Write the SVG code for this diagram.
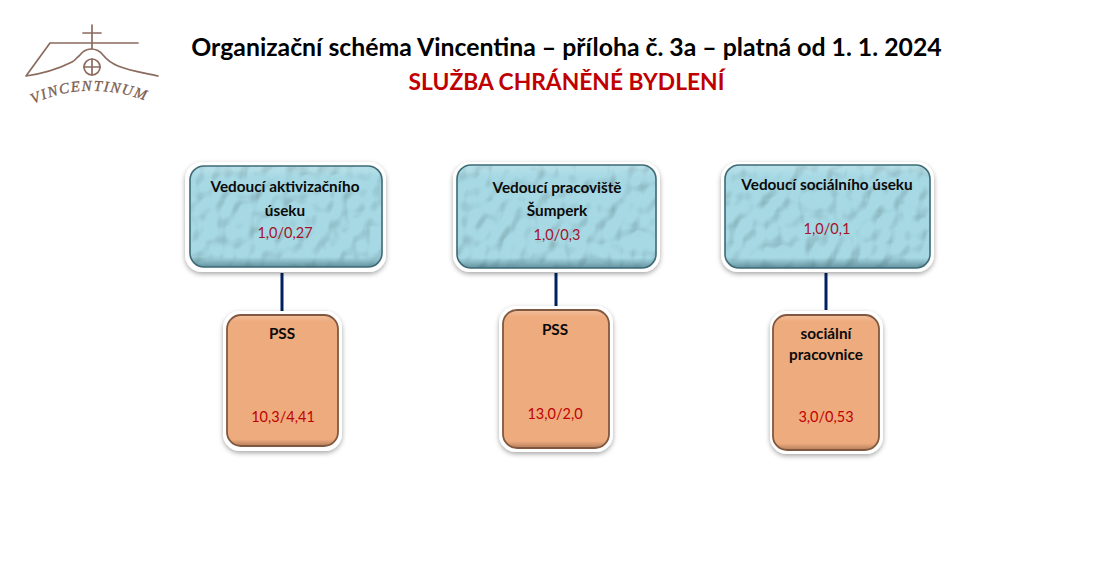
<svg xmlns="http://www.w3.org/2000/svg" width="1113" height="569" viewBox="0 0 1113 569">
<style>
text{font-family:Lato,"Open Sans","Liberation Sans",sans-serif;text-anchor:middle}
.t{font-size:24.8px;font-weight:700;fill:#000}
.s{font-size:22.8px;font-weight:700;fill:#c00000}
.b{font-size:15.3px;font-weight:700;fill:#0a0a0a}
.v{font-size:14.5px;fill:#a3122a}
.o{font-size:14.5px;fill:#c00000}
.fr{fill:#fff;filter:url(#sh)}
.blue{fill:#a6d9e4;filter:url(#drops)}
.edge{fill:url(#gl);stroke:#3d6a75;stroke-width:1.6}
.or{fill:#eeab7e}
.oe{fill:url(#og);stroke:#80583f;stroke-width:1.8}
.lg{fill:none;stroke:#8b6b5e;stroke-width:1.7;stroke-linecap:round;stroke-linejoin:round}
.con{stroke:#002060;stroke-width:3;fill:none}
</style>
<defs>
<filter id="sh" x="-10%" y="-10%" width="120%" height="125%"><feDropShadow dx="0" dy="2" stdDeviation="2.5" flood-color="#000" flood-opacity=".35"/></filter>
<filter id="drops" x="0" y="0" width="100%" height="100%" color-interpolation-filters="sRGB">
<feTurbulence type="fractalNoise" baseFrequency=".09 .07" numOctaves="1" seed="7" result="n"/>
<feColorMatrix in="n" type="matrix" values="0 0 0 0 0 0 0 0 0 0 0 0 0 0 0 2 0 0 0 -.6" result="h"/>
<feDiffuseLighting in="h" surfaceScale="1" diffuseConstant="1.13" lighting-color="#ffffff" result="df"><feDistantLight azimuth="235" elevation="62"/></feDiffuseLighting>
<feComposite in="SourceGraphic" in2="df" operator="arithmetic" k1="1" k2="0" k3="0" k4="0" result="a"/>
<feComposite in="a" in2="SourceAlpha" operator="in"/>
</filter>
<linearGradient id="gl" x1="0" y1="0" x2="0" y2="1">
<stop offset="0" stop-color="#fff" stop-opacity=".2"/><stop offset=".12" stop-color="#fff" stop-opacity="0"/><stop offset=".9" stop-color="#1d4a55" stop-opacity="0"/><stop offset="1" stop-color="#1d4a55" stop-opacity=".5"/>
</linearGradient>
<linearGradient id="og" x1="0" y1="0" x2="0" y2="1">
<stop offset="0" stop-color="#fff" stop-opacity=".25"/><stop offset=".05" stop-color="#fff" stop-opacity="0"/><stop offset=".95" stop-color="#5c3a24" stop-opacity="0"/><stop offset="1" stop-color="#5c3a24" stop-opacity=".4"/>
</linearGradient>
<path id="arc" d="M33,104 Q92,76 162,107"/>
</defs>

<g id="logo">
<path class="lg" d="M92,25V48M83,33H101M50,43H138M50,43L26,76C40,74 56,70 72,62C76,60 76,58 79,56C82,52 86,49 91,49C96,49 100,51 103,55C107,60 111,63 118,66C130,71 145,73 158,76"/>
<circle class="lg" cx="92" cy="67" r="8"/>
<path class="lg" d="M92,59V75M84,67H100"/>
<text font-size="15" fill="#7d5d50" stroke="#7d5d50" stroke-width=".3" style="font-family:'Liberation Serif',serif;font-style:italic;text-anchor:start" letter-spacing="1.5"><textPath href="#arc">VINCENTINUM</textPath></text>
</g>

<g id="title">
<text class="t" x="566.5" y="56">Organizační schéma Vincentina – příloha č. 3a – platná od 1. 1. 2024</text>
<text class="s" x="566.5" y="90">SLUŽBA CHRÁNĚNÉ BYDLENÍ</text>
</g>

<g id="connectors">
<path class="con" d="M282,273V311"/>
<path class="con" d="M556,273V306"/>
<path class="con" d="M826,273V310"/>
</g>

<g id="n1">
<rect class="fr" x="185" y="162" width="201" height="110" rx="17"/>
<rect class="blue" x="190" y="166" width="192" height="101" rx="14"/>
<rect class="edge" x="190" y="166" width="192" height="101" rx="14"/>
<text class="b" x="285" y="192">Vedoucí aktivizačního</text>
<text class="b" x="285" y="216">úseku</text>
<text class="v" x="285" y="238">1,0/0,27</text>
</g>
<g id="n2">
<rect class="fr" x="453" y="162" width="207" height="110" rx="17"/>
<rect class="blue" x="457" y="165" width="199" height="103" rx="14"/>
<rect class="edge" x="457" y="165" width="199" height="103" rx="14"/>
<text class="b" x="557" y="193">Vedoucí pracoviště</text>
<text class="b" x="557" y="216">Šumperk</text>
<text class="v" x="557" y="240">1,0/0,3</text>
</g>
<g id="n3">
<rect class="fr" x="721" y="162" width="213" height="110" rx="17"/>
<rect class="blue" x="725" y="165" width="205" height="103" rx="14"/>
<rect class="edge" x="725" y="165" width="205" height="103" rx="14"/>
<text class="b" x="827" y="190">Vedoucí sociálního úseku</text>
<text class="v" x="827" y="234">1,0/0,1</text>
</g>
<g id="n4">
<rect class="fr" x="223" y="311" width="119" height="140" rx="17"/>
<rect class="or" x="227" y="315" width="111" height="131" rx="14"/>
<rect class="oe" x="227" y="315" width="111" height="131" rx="14"/>
<text class="b" x="282" y="339">PSS</text>
<text class="o" x="283" y="422">10,3/4,41</text>
</g>
<g id="n5">
<rect class="fr" x="499" y="306" width="114" height="146" rx="17"/>
<rect class="or" x="503" y="310" width="106" height="138" rx="14"/>
<rect class="oe" x="503" y="310" width="106" height="138" rx="14"/>
<text class="b" x="555" y="335">PSS</text>
<text class="o" x="555" y="419">13,0/2,0</text>
</g>
<g id="n6">
<rect class="fr" x="770" y="311" width="113" height="143" rx="17"/>
<rect class="or" x="773" y="315" width="106" height="135" rx="14"/>
<rect class="oe" x="773" y="315" width="106" height="135" rx="14"/>
<text class="b" x="826" y="339">sociální</text>
<text class="b" x="826" y="360">pracovnice</text>
<text class="o" x="826" y="422">3,0/0,53</text>
</g>
</svg>
